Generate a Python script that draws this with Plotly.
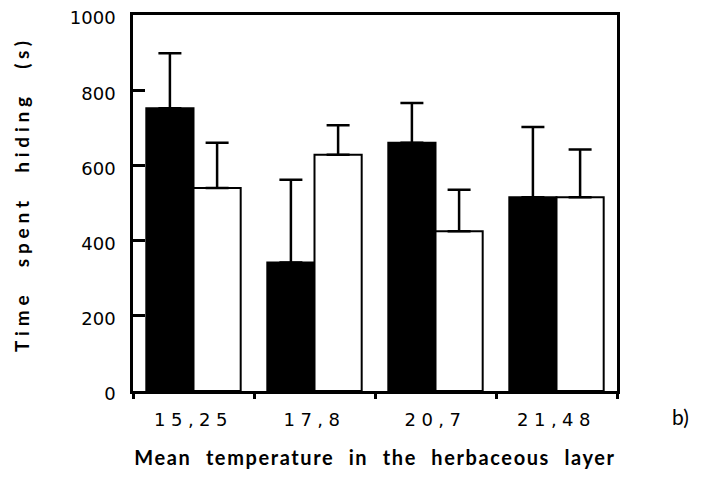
import plotly.graph_objects as go

categories = ["15,25", "17,8", "20,7", "21,48"]
black_means = [752, 342, 660, 515]
black_err_top = [898, 562, 766, 702]
white_means = [540, 628, 425, 515]
white_err_top = [660, 707, 535, 642]
y_ticks = [0, 200, 400, 600, 800, 1000]

black_err = [t - m for t, m in zip(black_err_top, black_means)]
white_err = [t - m for t, m in zip(white_err_top, white_means)]


def spaced(s, ls, ws=None):
    style = f"letter-spacing:{ls}px"
    if ws is not None:
        style += f";word-spacing:{ws}px"
    return f'<span style="{style}">{s}</span>'


fig = go.Figure()
fig.add_trace(go.Bar(
    x=categories, y=black_means,
    marker=dict(color="black", line=dict(color="black", width=2)),
    error_y=dict(type="data", symmetric=False, array=black_err, arrayminus=[0] * 4,
                 color="black", thickness=2.5, width=11.5),
    showlegend=False,
))
fig.add_trace(go.Bar(
    x=categories, y=white_means,
    marker=dict(color="white", line=dict(color="black", width=2)),
    error_y=dict(type="data", symmetric=False, array=white_err, arrayminus=[0] * 4,
                 color="black", thickness=2.5, width=11.5),
    showlegend=False,
))

W, H = 696, 471
L, R, T, B = 125, 87, 7, 88
fig.update_layout(
    width=W, height=H,
    margin=dict(l=L, r=R, t=T, b=B, autoexpand=False),
    paper_bgcolor="white", plot_bgcolor="white",
    barmode="group", bargap=0.22, bargroupgap=0,
    font=dict(family="DejaVu Sans", color="black"),
)
fig.update_yaxes(
    range=[0, 1000], tickvals=y_ticks, automargin=False,
    ticks="inside", ticklen=12, tickwidth=2.5, tickcolor="black",
    showline=True, linewidth=2.5, linecolor="black", mirror=True,
    showgrid=False, zeroline=False,
    tickfont=dict(family="DejaVu Sans", size=18, color="black"),
    ticklabelstandoff=11, ticklabeloverflow="allow", ticklabelshift=3,
)
fig.update_xaxes(
    tickvals=categories, automargin=False,
    ticktext=[spaced(c, 5.5) for c in categories],
    ticks="outside", tickson="boundaries", ticklen=5, tickwidth=2.5, tickcolor="black",
    showline=True, linewidth=2.5, linecolor="black", mirror=True,
    showgrid=False,
    tickfont=dict(family="DejaVu Sans", size=18, color="black"),
    ticklabelstandoff=11,
    title=dict(text=spaced("Mean temperature in the herbaceous layer", 1.6, 8),
               font=dict(family="Lato", size=20, color="black", weight="bold"),
               standoff=22),
)
# y-axis title placed as rotated text
fig.add_annotation(text=spaced("Time spent hiding (s)", 4.8, 14),
                   xref="paper", yref="paper",
                   x=(13 - L) / (W - L - R), y=1 - (186 - T) / (H - T - B),
                   xanchor="center", yanchor="middle", textangle=-90, showarrow=False,
                   font=dict(family="Lato", size=19, color="black", weight="bold"))
fig.add_annotation(text="b)", xref="x domain", yref="y domain",
                   x=(672 - L) / (W - L - R), y=1 - (409 - T) / (H - T - B),
                   xanchor="center", yanchor="middle", showarrow=False,
                   font=dict(family="Lato", size=21, color="black"))

fig.write_html("out.html")
